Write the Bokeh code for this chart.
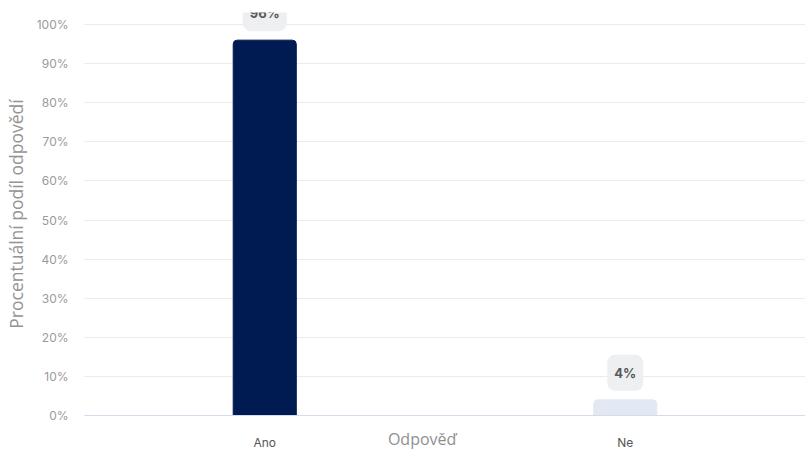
from bokeh.plotting import figure
from bokeh.models import ColumnDataSource, FactorRange, Range1d, FixedTicker, CustomJSTickFormatter
from bokeh.core.properties import value
from bokeh.embed import file_html
from bokeh.resources import INLINE

categories = ["Ano", "Ne"]
percentages = [96, 4]
bar_colors = ["#001a52", "#e2e9f3"]
label_texts = ["96%", "4%"]
y_ticks = [0, 10, 20, 30, 40, 50, 60, 70, 80, 90, 100]

src = ColumnDataSource(dict(cat=categories, val=percentages, color=bar_colors, lbl=label_texts))

p = figure(width=805, height=452, output_backend="svg", toolbar_location=None,
           x_range=FactorRange(*categories, range_padding=0), y_range=Range1d(0, 103.07),
           min_border_left=83, min_border_right=0, min_border_top=12, min_border_bottom=37)
p.outline_line_color = None
p.background_fill_color = "white"

p.vbar(x="cat", top="val", width=0.175, color="color", source=src,
       border_radius=(4, 4, 0, 0))

p.text(x="cat", y="val", text="lbl", source=src, y_offset=-27,
       text_align="center", text_baseline="middle",
       text_font=value("Inter"), text_font_size="13px", text_font_style="bold",
       text_color="#595959", background_fill_color="#eeeff0",
       border_radius=8, padding=dict(left=7, right=7, top=10, bottom=10))

p.xgrid.grid_line_color = None
p.ygrid.grid_line_color = "#ebebeb"
p.ygrid.grid_line_width = 1

p.yaxis.ticker = FixedTicker(ticks=y_ticks)
p.yaxis.formatter = CustomJSTickFormatter(code="return tick + '%';")
p.yaxis.axis_line_color = None
p.yaxis.major_tick_line_color = None
p.yaxis.minor_tick_line_color = None
p.yaxis.major_tick_out = 0
p.yaxis.major_tick_in = 0
p.yaxis.minor_tick_out = 0
p.yaxis.minor_tick_in = 0
p.yaxis.major_label_standoff = 16
p.yaxis.major_label_text_font = "Inter"
p.yaxis.major_label_text_font_size = "12px"
p.yaxis.major_label_text_color = "#9a9a9a"
p.yaxis.axis_label = "Procentuální podíl odpovědí"
p.yaxis.axis_label_text_font = "Open Sans"
p.yaxis.axis_label_text_font_size = "17.5px"
p.yaxis.axis_label_text_font_style = "normal"
p.yaxis.axis_label_text_color = "#949494"
p.yaxis.axis_label_standoff = 6

p.xaxis.axis_line_color = "#d5dbea"
p.xaxis.major_tick_line_color = None
p.xaxis.minor_tick_line_color = None
p.xaxis.major_tick_out = 0
p.xaxis.major_tick_in = 0
p.xaxis.minor_tick_out = 0
p.xaxis.minor_tick_in = 0
p.xaxis.major_label_standoff = 19
p.xaxis.major_label_text_font = "Inter"
p.xaxis.major_label_text_font_size = "12px"
p.xaxis.major_label_text_color = "#555555"
p.xaxis.axis_label = "Odpověď" + "\u00a0" * 11
p.xaxis.axis_label_text_font = "Open Sans"
p.xaxis.axis_label_text_font_size = "16px"
p.xaxis.axis_label_text_font_style = "normal"
p.xaxis.axis_label_text_color = "#8f8f8f"
p.xaxis.axis_label_standoff = -25

open("out.html", "w").write(file_html(p, INLINE))
